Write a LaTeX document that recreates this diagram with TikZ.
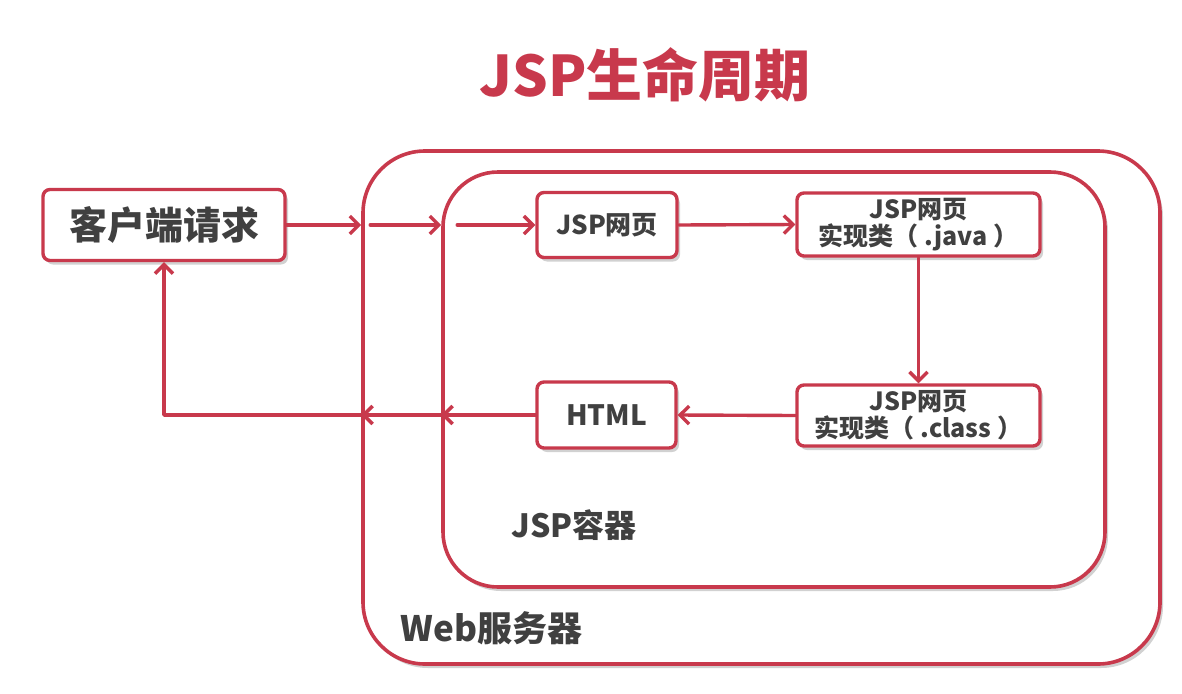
\documentclass[tikz,border=0pt]{standalone}
\usepackage{fontspec}
\setmainfont{Noto Sans CJK SC}
\usetikzlibrary{arrows.meta,shadows}

\begin{document}
\begin{tikzpicture}[
    x=1pt,
    y=-1pt,
    line cap=round,
    line join=round,
    every node/.style={font=\bfseries},
]
\definecolor{jspRed}{HTML}{C8394C}
\definecolor{jspText}{HTML}{404040}

\tikzset{
    softshadow/.style={drop shadow={shadow xshift=3pt,shadow yshift=-4pt,opacity=0.18,fill=black}},
    frame/.style={draw=jspRed,line width=3.6pt,fill=white,softshadow},
    stagebox/.style={draw=jspRed,line width=3.4pt,fill=white,rounded corners=7pt,
        text=jspText,align=center,inner sep=0pt,softshadow},
    flow/.style={draw=jspRed,line width=3.4pt,-{Straight Barb[length=9pt,width=18pt]}},
}

\useasboundingbox (0,0) rectangle (1182,693);

% title
\node[text=jspRed,font=\bfseries\fontsize{56}{60}\selectfont] (title) at (645,75) {JSP生命周期};

% containers
\node[frame,rounded corners=62pt,minimum width=797pt,minimum height=513pt] (web) at (761.5,407.5) {};
\node[frame,rounded corners=55pt,minimum width=662pt,minimum height=415pt] (jsp) at (774,379.5) {};
\node[text=jspText,anchor=west,font=\bfseries\fontsize{35}{40}\selectfont] (weblabel) at (397,628) {Web服务器};
\node[text=jspText,anchor=west,font=\bfseries\fontsize{32}{38}\selectfont] (jsplabel) at (508,525) {JSP容器};

% stages
\node[stagebox,minimum width=242pt,minimum height=71pt,font=\bfseries\fontsize{38}{44}\selectfont] (client) at (164,225) {客户端请求};
\node[stagebox,minimum width=140pt,minimum height=65pt,font=\bfseries\fontsize{26}{30}\selectfont] (page) at (607,225) {JSP网页};
\node[stagebox,minimum width=243pt,minimum height=63pt,font=\bfseries\fontsize{25}{27}\selectfont] (java) at (918.5,224.5) {JSP网页\\实现类（ .java ）};
\node[stagebox,minimum width=243pt,minimum height=61pt,font=\bfseries\fontsize{25}{27}\selectfont] (class) at (918.5,415.5) {JSP网页\\实现类（ .class ）};
\node[stagebox,minimum width=139pt,minimum height=66pt,font=\bfseries\fontsize{28}{32}\selectfont] (html) at (606.5,415) {HTML};

% request path
\coordinate (webin) at (client.east -| web.west);
\coordinate (jspin) at (client.east -| jsp.west);
\draw[flow] (client.east) -- (webin);
\draw[flow] ([xshift=9pt]webin) -- (jspin);
\draw[flow] ([xshift=16pt]jspin) -- (page.west);
\draw[flow] (page.east) -- (java.west);
\draw[flow] (java.south) -- (class.north);
\draw[flow] (class.west) -- (html.east);

% response path
\coordinate (jspout) at (html.west -| jsp.west);
\coordinate (webout) at (html.west -| web.west);
\draw[flow] (html.west) -- (jspout);
\draw[flow] (jspout) -- (webout);
\draw[flow] (webout) -| (client.south);
\end{tikzpicture}
\end{document}
